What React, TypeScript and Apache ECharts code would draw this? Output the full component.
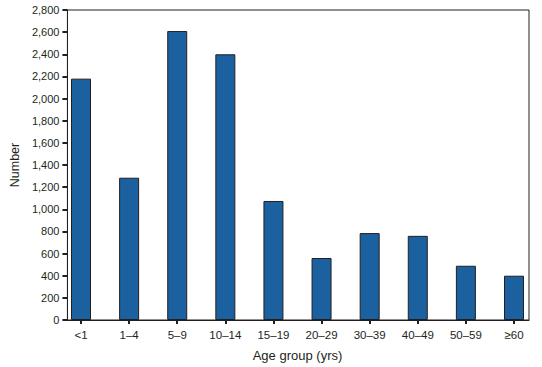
import React, { useEffect, useRef } from "react";
import * as echarts from "echarts";

const categories = ["<1", "1–4", "5–9", "10–14", "15–19", "20–29", "30–39", "40–49", "50–59", "≥60"];
const values = [2180, 1285, 2610, 2400, 1075, 560, 785, 760, 490, 400];
const yTicks = { min: 0, max: 2800, interval: 200 };

export default function App() {
  const ref = useRef<HTMLDivElement>(null);
  useEffect(() => {
    const chart = echarts.init(ref.current!, null, { renderer: "svg" });
    const dark = "#231f20";
    const font = "Liberation Sans, Arial, sans-serif";
    chart.setOption({
      animation: false,
      grid: [
        { left: 62, top: 10, right: 13, bottom: 47, show: true, borderColor: dark, borderWidth: 1 },
        { left: 81, top: 10, right: 28, bottom: 47 },
      ],
      xAxis: [
        {
          gridIndex: 0,
          type: "value",
          min: 0,
          max: 1,
          axisLine: { show: true, lineStyle: { color: dark, width: 1 } },
          axisTick: { show: false },
          axisLabel: { show: false },
          splitLine: { show: false },
        },
        {
          gridIndex: 1,
          type: "category",
          data: categories,
          boundaryGap: false,
          name: "Age group (yrs)",
          nameLocation: "middle",
          nameGap: 29,
          nameTextStyle: { color: dark, fontSize: 13, fontFamily: font },
          axisLine: { show: false },
          axisTick: { show: true, length: 4, lineStyle: { color: dark, width: 2 } },
          axisLabel: { color: dark, fontSize: 11.5, fontFamily: font, margin: 9 },
          splitLine: { show: false },
        },
      ],
      yAxis: [
        {
          gridIndex: 0,
          type: "value",
          min: yTicks.min,
          max: yTicks.max,
          interval: yTicks.interval,
          name: "Number",
          nameLocation: "middle",
          nameGap: 45,
          nameTextStyle: { color: dark, fontSize: 12.5, fontFamily: font },
          splitLine: { show: false },
          axisLine: { show: true, lineStyle: { color: dark, width: 1 } },
          axisTick: { show: true, length: 5, lineStyle: { color: dark, width: 2 } },
          axisLabel: {
            color: dark,
            fontSize: 11,
            fontFamily: font,
            margin: 8,
            formatter: (v: number) => v.toLocaleString("en-US"),
          },
        },
        {
          gridIndex: 1,
          type: "value",
          min: yTicks.min,
          max: yTicks.max,
          interval: yTicks.interval,
          show: false,
          splitLine: { show: false },
        },
      ],
      series: [
        {
          type: "bar",
          xAxisIndex: 1,
          yAxisIndex: 1,
          data: values,
          barWidth: 20,
          clip: false,
          itemStyle: { color: "#1b61a0", borderColor: dark, borderWidth: 1 },
        },
      ],
    });
    return () => chart.dispose();
  }, []);
  return <div ref={ref} style={{ width: 542, height: 367, position: "absolute", left: 0, top: 0 }} />;
}
